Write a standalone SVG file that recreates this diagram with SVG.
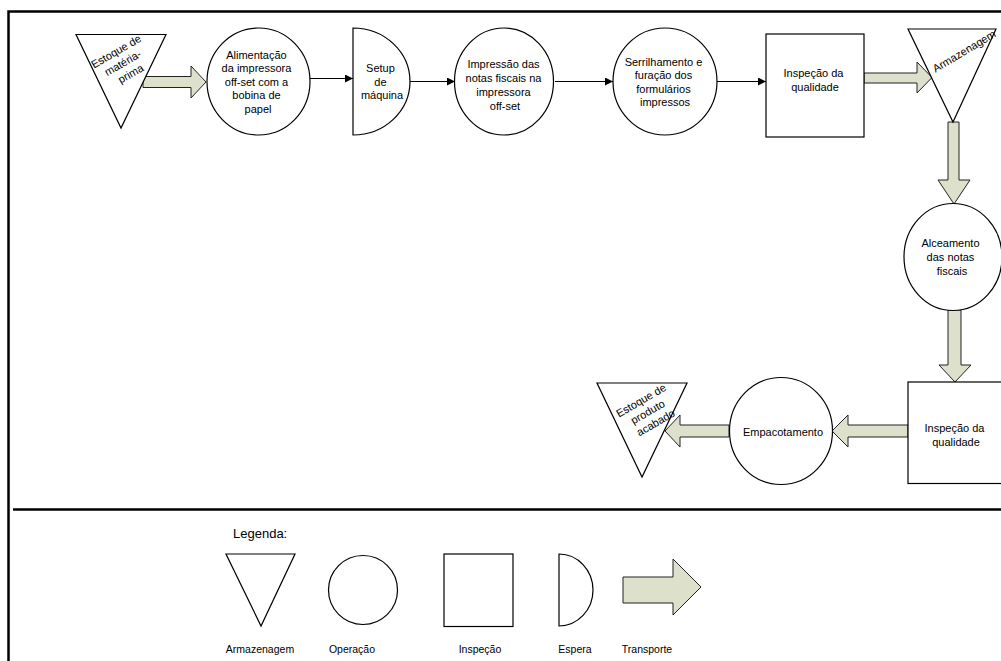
<svg xmlns="http://www.w3.org/2000/svg" width="1001" height="661" viewBox="0 0 1001 661">
  <style>
    .shape { fill: #ffffff; stroke: #000000; stroke-width: 1.2; }
    .move { fill: #dde0cb; stroke: #222222; stroke-width: 1; stroke-linejoin: miter; }
    .frame { stroke: #000000; stroke-width: 2.5; fill: none; }
    .flow { stroke: #000000; stroke-width: 1.2; fill: none; marker-end: url(#head); }
    text { font-family: "Liberation Sans", Arial, sans-serif; font-size: 11px; fill: #000000; text-anchor: middle; }
    .legend-title { font-size: 13px; text-anchor: start; }
    .legend-label { font-size: 10.5px; }
  </style>
  <defs>
    <marker id="head" markerWidth="8" markerHeight="8" refX="8" refY="4" orient="auto" markerUnits="userSpaceOnUse">
      <path d="M0,0 L8,4 L0,8 Z" fill="#000000"/>
    </marker>
  </defs>

  <rect width="1001" height="661" fill="#ffffff"/>

  <!-- page frame and legend divider -->
  <g id="frame">
    <path class="frame" d="M8.5,661 L8.5,11.5 L1001,11.5"/>
    <path class="frame" d="M13,509.5 L1001,509.5"/>
  </g>

  <!-- connectors: plain flow lines and transport arrows -->
  <g id="connectors">
    <path class="flow" d="M310,78.5 L353,78.5"/>
    <path class="flow" d="M410,81.5 L455,81.5"/>
    <path class="flow" d="M555,81.5 L613,81.5"/>
    <path class="flow" d="M716,81.5 L766,81.5"/>

    <path class="move" d="M143,76.5 L191,76.5 L191,66 L206,82 L191,98 L191,87.5 L143,87.5 Z"/>
    <path class="move" d="M864,73 L917,73 L917,62 L932,77.5 L917,93 L917,83 L864,83 Z"/>
    <path class="move" d="M948,122 L959,122 L959,180 L970,180 L954,204 L938,180 L948,180 Z"/>
    <path class="move" d="M948,310 L961,310 L961,365 L971,365 L955,382 L939,365 L948,365 Z"/>
    <path class="move" d="M908,425 L848,425 L848,415 L832,431 L848,447 L848,437 L908,437 Z"/>
    <path class="move" d="M729,425 L680,425 L680,415 L665,431 L680,447 L680,437 L729,437 Z"/>
  </g>

  <g id="estoque-materia-prima">
    <path class="shape" d="M76,34.5 L166,34.5 L121,128 Z"/>
    <text transform="translate(124,62) rotate(-30)">
      <tspan x="0" y="-9.3">Estoque de</tspan>
      <tspan x="0" y="4">matéria-</tspan>
      <tspan x="0" y="17.3">prima</tspan>
    </text>
  </g>

  <g id="alimentacao">
    <ellipse class="shape" cx="258.5" cy="81.5" rx="51.5" ry="53.5"/>
    <text>
      <tspan x="258" y="59">Alimentação</tspan>
      <tspan x="258" y="72.4">da impressora</tspan>
      <tspan x="258" y="85.8">off-set com a</tspan>
      <tspan x="258" y="99.2">bobina de</tspan>
      <tspan x="258" y="112.6">papel</tspan>
    </text>
  </g>

  <g id="setup">
    <path class="shape" d="M353,28 A57,53.5 0 0 1 353,135 Z"/>
    <text>
      <tspan x="382" y="72">Setup</tspan>
      <tspan x="382" y="85.5">de</tspan>
      <tspan x="382" y="99">máquina</tspan>
    </text>
  </g>

  <g id="impressao">
    <ellipse class="shape" cx="504" cy="81.5" rx="49.5" ry="53.5"/>
    <text>
      <tspan x="505" y="68">Impressão das</tspan>
      <tspan x="505" y="82">notas fiscais na</tspan>
      <tspan x="505" y="96">impressora</tspan>
      <tspan x="505" y="110">off-set</tspan>
    </text>
  </g>

  <g id="serrilhamento">
    <ellipse class="shape" cx="665" cy="81.5" rx="52" ry="53.5"/>
    <text>
      <tspan x="665" y="66">Serrilhamento e</tspan>
      <tspan x="665" y="79.3">furação dos</tspan>
      <tspan x="665" y="92.6">formulários</tspan>
      <tspan x="665" y="106">impressos</tspan>
    </text>
  </g>

  <g id="inspecao-1">
    <rect class="shape" x="766" y="34" width="98" height="103"/>
    <text>
      <tspan x="815" y="77">Inspeção da</tspan>
      <tspan x="815" y="91">qualidade</tspan>
    </text>
  </g>

  <g id="armazenagem">
    <path class="shape" d="M908,29 L996,29 L953,122 Z"/>
    <text transform="translate(964,51) rotate(-31)" y="4">Armazenagem</text>
  </g>

  <g id="alceamento">
    <ellipse class="shape" cx="953" cy="257" rx="49" ry="53.5"/>
    <text>
      <tspan x="952" y="247">Alceamento</tspan>
      <tspan x="952" y="261">das notas</tspan>
      <tspan x="952" y="275">fiscais</tspan>
    </text>
  </g>

  <g id="inspecao-2">
    <rect class="shape" x="908" y="382" width="98" height="101.5"/>
    <text>
      <tspan x="956" y="432">Inspeção da</tspan>
      <tspan x="956" y="446">qualidade</tspan>
    </text>
  </g>

  <g id="empacotamento">
    <ellipse class="shape" cx="781" cy="431" rx="51.5" ry="53.5"/>
    <text x="783" y="436">Empacotamento</text>
  </g>

  <g id="estoque-produto-acabado">
    <path class="shape" d="M597,383 L687,383 L642,477 Z"/>
    <text transform="translate(649,411) rotate(-30)">
      <tspan x="0" y="-9.3">Estoque de</tspan>
      <tspan x="0" y="4">produto</tspan>
      <tspan x="0" y="17.3">acabado</tspan>
    </text>
  </g>

  <!-- legend -->
  <g id="legend">
    <text class="legend-title" x="233" y="538">Legenda:</text>
    <path class="shape" d="M226,554 L295,554 L261,626 Z"/>
    <circle class="shape" cx="363" cy="590" r="34.5"/>
    <rect class="shape" x="444" y="554" width="69" height="72.5"/>
    <path class="shape" d="M559,554 A34,36 0 0 1 559,626 Z"/>
    <path class="move" d="M623,577 L673,577 L673,559 L701,587 L673,615 L673,603 L623,603 Z"/>
    <text class="legend-label" x="260" y="653">Armazenagem</text>
    <text class="legend-label" x="352" y="653">Operação</text>
    <text class="legend-label" x="480" y="653">Inspeção</text>
    <text class="legend-label" x="575" y="653">Espera</text>
    <text class="legend-label" x="647" y="653">Transporte</text>
  </g>
</svg>
